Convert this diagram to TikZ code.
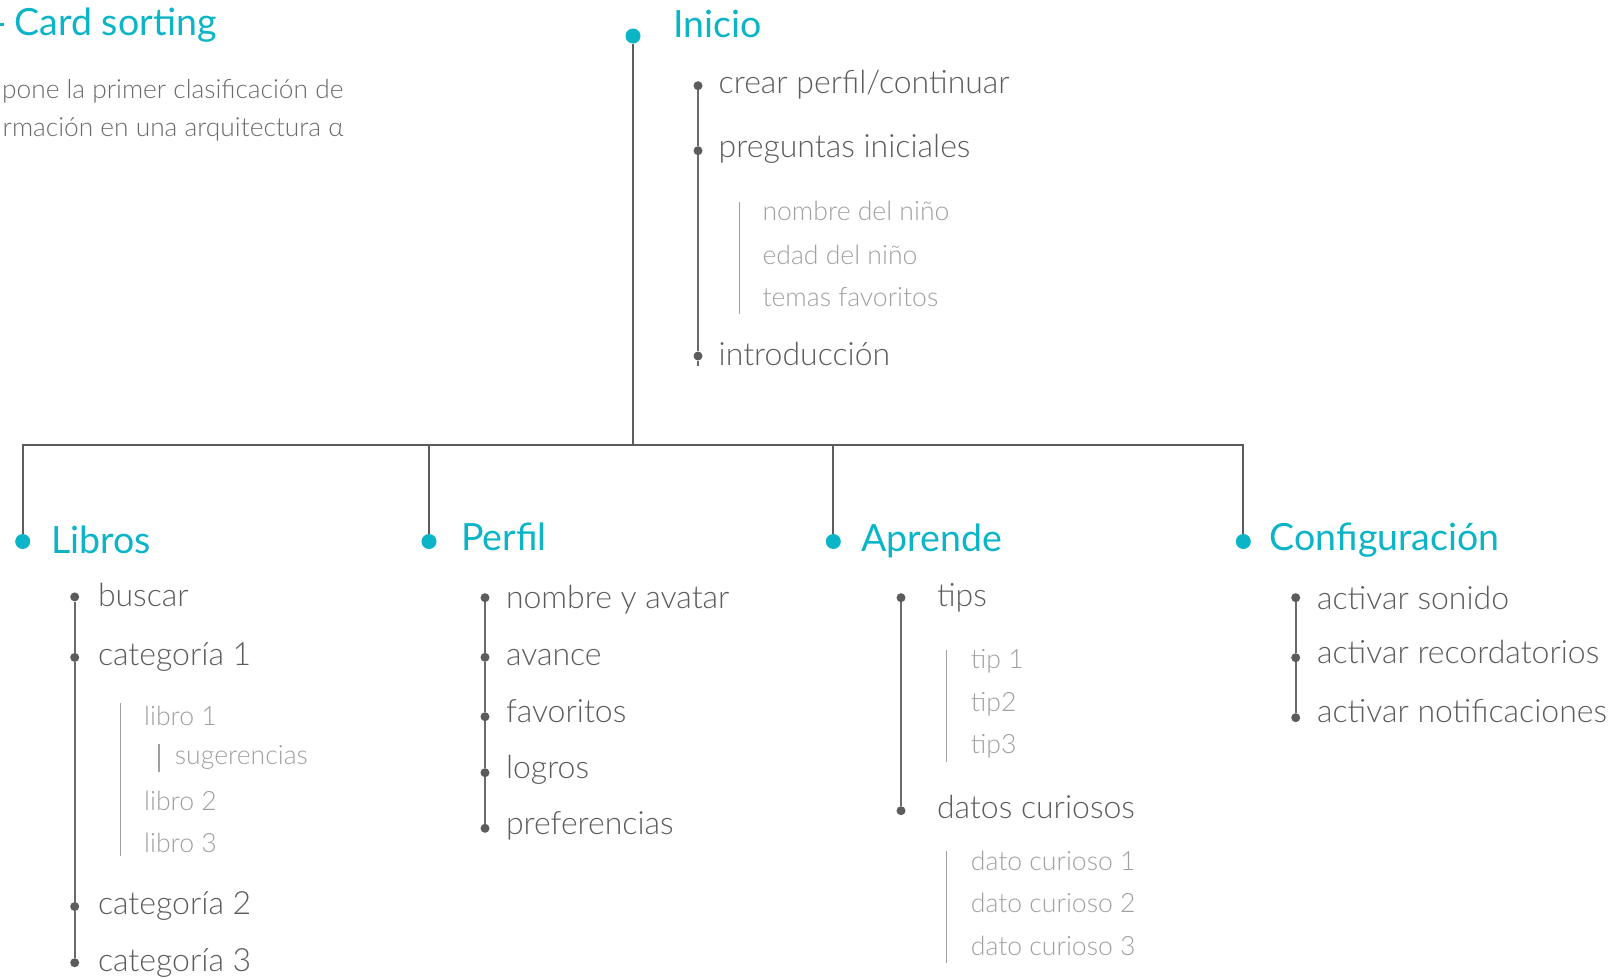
\documentclass[tikz,border=0pt]{standalone}
\usepackage{fontspec}
\setmainfont{Lato}
\newfontfamily\lightfont{Lato Light}
\definecolor{cy}{HTML}{0CB4C8}
\definecolor{dk}{HTML}{5C5C5C}
\definecolor{md}{HTML}{6A6A6A}
\definecolor{lt}{HTML}{A0A0A0}
\tikzset{
 head/.style={anchor=base west, inner sep=0, text=cy, font=\fontsize{37.5bp}{44bp}\selectfont},
 item/.style={anchor=base west, inner sep=0, text=dk, font=\lightfont\fontsize{32bp}{38bp}\selectfont},
 subitem/.style={anchor=base west, inner sep=0, text=lt, font=\lightfont\fontsize{26.6bp}{31bp}\selectfont},
 body/.style={anchor=base east, inner sep=0, text=md, font=\lightfont\fontsize{26.3bp}{31bp}\selectfont},
 hdot/.style={circle, fill=cy, inner sep=0, minimum size=15bp},
 idot/.style={circle, fill=dk, inner sep=0, minimum size=9bp},
 mainline/.style={draw=dk, line width=2.2bp},
 subline/.style={draw=md, line width=2bp},
 bar/.style={draw=lt, line width=1.4bp},
}
\begin{document}
\begin{tikzpicture}[x=1bp,y=-1bp]
\useasboundingbox (0,0) rectangle (1619,978);
% Card sorting
\draw[cy, line width=3bp] (-6,24.5) -- (4,24.5);
\node[head] (cs) at (14.5,35) {Card sorting};
\node[body] (b1) at (343.5,98.3) {pone la primer clasificación de};
\node[body] (b2) at (343.5,136.7) {rmación en una arquitectura α};
% Inicio
\node[hdot] (ini) at (633,36) {};
\node[head] (init) at (673.5,37) {Inicio};
\node[idot] (i1) at (698,85.7) {};
\node[idot] (i2) at (698,150.7) {};
\node[idot] (i3) at (698,356) {};
\coordinate (i3e) at (698,366);
\node[item] at (718.5,93.3) {crear perfil/continuar};
\node[item] at (718.5,157) {preguntas iniciales};
\node[item] at (718.5,365) {introducción};
\draw[subline] (i1.south) -- (i2.north) (i2.south) -- (i3.north) (i3.south) -- (i3e);
\draw[bar] (739.3,201.7) -- (739.3,314);
\node[subitem] at (762.3,220.7) {nombre del niño};
\node[subitem] at (762.3,264) {edad del niño};
\node[subitem] at (762.3,306) {temas favoritos};
% tree
\coordinate (jn) at (633,445);
\node[hdot] (lib) at (22.7,541.5) {};
\node[hdot] (per) at (429,541.5) {};
\node[hdot] (apr) at (833.3,541.5) {};
\node[hdot] (cfg) at (1243.3,541.5) {};
\draw[mainline] (ini.south) -- (jn);
\draw[mainline] (lib.north) |- (jn) -| (cfg.north);
\draw[mainline] (per.north) |- (jn);
\draw[mainline] (apr.north) |- (jn);
% Libros
\node[head] at (51.3,553) {Libros};
\node[idot] (l1) at (74.7,596.9) {};
\node[idot] (l2) at (74.7,657.4) {};
\node[idot] (l3) at (74.7,906.5) {};
\node[idot] (l4) at (74.7,962.7) {};
\draw[subline] (l1.south) -- (l2.north) (l2.south) -- (l3.north) (l3.south) -- (l4.north);
\node[item] at (97.8,606.8) {buscar};
\node[item] at (97.8,665.6) {categoría 1};
\node[item] at (97.8,914) {categoría 2};
\node[item] at (97.8,971.6) {categoría 3};
\draw[bar] (120.7,702.9) -- (120.7,856);
\node[subitem] at (144,725) {libro 1};
\draw[bar] (159,743.9) -- (159,772.3);
\node[subitem] at (174.7,764) {sugerencias};
\node[subitem] at (144,810.7) {libro 2};
\node[subitem] at (144,852.4) {libro 3};
% Perfil
\node[head] at (461,550.7) {Perfil};
\node[idot] (p1) at (485,597.7) {};
\node[idot] (p2) at (485,657.3) {};
\node[idot] (p3) at (485,716.7) {};
\node[idot] (p4) at (485,772.7) {};
\node[idot] (p5) at (485,828.3) {};
\draw[subline] (p1.south) -- (p2.north) (p2.south) -- (p3.north) (p3.south) -- (p4.north) (p4.south) -- (p5.north);
\node[item] at (505.8,608.3) {nombre y avatar};
\node[item] at (505.8,665.7) {avance};
\node[item] at (505.8,722.7) {favoritos};
\node[item] at (505.8,778.3) {logros};
\node[item] at (505.8,834.3) {preferencias};
% Aprende
\node[head] at (861.3,551.7) {Aprende};
\node[idot] (a1) at (901,597.7) {};
\node[idot] (a2) at (901,810.7) {};
\draw[subline] (a1.south) -- (a2.north);
\node[item] at (936.8,606) {tips};
\node[item] at (936.8,818.3) {datos curiosos};
\draw[bar] (946.7,650) -- (946.7,761.7);
\node[subitem] at (970.7,668.3) {tip 1};
\node[subitem] at (970.7,711) {tip2};
\node[subitem] at (970.7,753.3) {tip3};
\draw[bar] (946.7,851) -- (946.7,963.3);
\node[subitem] at (970.7,870) {dato curioso 1};
\node[subitem] at (970.7,912.7) {dato curioso 2};
\node[subitem] at (970.7,955) {dato curioso 3};
% Configuracion
\node[head] at (1269.7,550) {Configuración};
\node[idot] (c1) at (1295.7,597.7) {};
\node[idot] (c2) at (1295.7,657.7) {};
\node[idot] (c3) at (1295.7,717.7) {};
\draw[subline] (c1.south) -- (c2.north) (c2.south) -- (c3.north);
\node[item] at (1316.8,609.3) {activar sonido};
\node[item] at (1316.8,663.3) {activar recordatorios};
\node[item] at (1316.8,722.7) {activar notificaciones};
\end{tikzpicture}
\end{document}
